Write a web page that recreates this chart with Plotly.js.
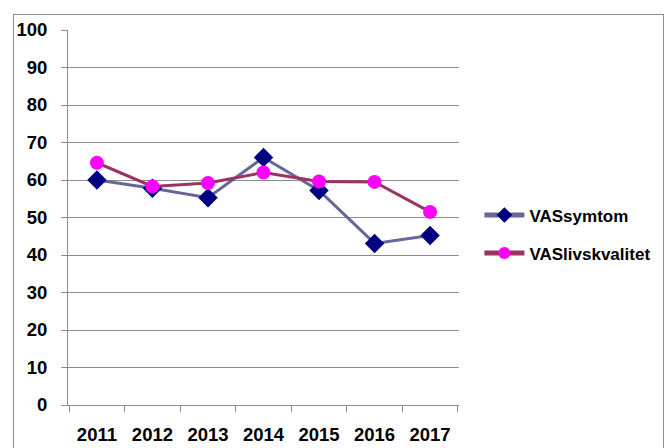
<!DOCTYPE html>
<html><head><meta charset="utf-8">
<script src="https://cdn.plot.ly/plotly-3.0.1.min.js"></script>
<style>
html,body{margin:0;padding:0;background:#fff;}
#wrap{position:relative;width:664px;height:448px;overflow:hidden;}
#chart{width:664px;height:448px;}
#frame{position:absolute;left:13px;top:14px;width:651px;height:450px;border:1px solid #8c8c8c;box-sizing:border-box;pointer-events:none;}
</style></head>
<body><div id="wrap"><div id="chart"></div><div id="frame"></div></div>
<script>
const years = ['2011','2012','2013','2014','2015','2016','2017'];
const vasSymtom = [60, 57.8, 55.3, 66, 57.2, 43.1, 45.2];
const vasLivskvalitet = [64.6, 58.3, 59.2, 62, 59.6, 59.5, 51.5];
const yTicks = [0,10,20,30,40,50,60,70,80,90,100];

const fontFam = '"Liberation Sans Narrow", "Liberation Sans", Arial, sans-serif';
const tf = {family: fontFam, size: 18.5, color: '#000', weight: 'bold'};
const lf = {family: fontFam, size: 17, color: '#000', weight: 'bold'};
const traces = [
  {x: years, y: vasSymtom, name: 'VASsymtom', legendgroup: 'a', type: 'scatter', mode: 'lines+markers',
   line: {color: '#666699', width: 3}, marker: {symbol: 'diamond', color: '#000080', size: 15}},
  {x: years, y: vasLivskvalitet, name: 'VASlivskvalitet', legendgroup: 'b', type: 'scatter', mode: 'lines+markers',
   line: {color: '#993366', width: 3}, marker: {symbol: 'circle', color: '#FF00FF', size: 14}}
];
const layout = {
  width: 664, height: 448,
  margin: {l: 68, r: 205, t: 30, b: 43},
  paper_bgcolor: '#fff', plot_bgcolor: '#fff',
  font: tf,
  showlegend: true,
  legend: {xref: 'container', x: 0.722, xanchor: 'left', y: 0.455, yanchor: 'middle',
    font: lf, itemsizing: 'constant',
    itemwidth: 40, tracegroupgap: 13, bgcolor: 'rgba(0,0,0,0)'},
  xaxis: {type: 'category', categoryorder: 'array', categoryarray: years,
    tickson: 'boundaries', ticks: 'outside', ticklen: 6, tickcolor: '#8c8c8c', tickwidth: 1,
    showline: true, linecolor: '#8c8c8c', linewidth: 1, showgrid: false, zeroline: false,
    ticklabelstandoff: 13, fixedrange: true, tickfont: tf},
  yaxis: {range: [0, 100], tickmode: 'array', tickvals: yTicks, ticktext: yTicks.map(String),
    ticks: 'outside', ticklen: 6, tickcolor: '#8c8c8c', tickwidth: 1,
    showline: true, linecolor: '#8c8c8c', linewidth: 1,
    showgrid: true, gridcolor: '#8c8c8c', gridwidth: 1, zeroline: false,
    ticklabelstandoff: 10, fixedrange: true, tickfont: tf}
};
Plotly.newPlot('chart', traces, layout, {displayModeBar: false, staticPlot: true});
</script></body></html>
